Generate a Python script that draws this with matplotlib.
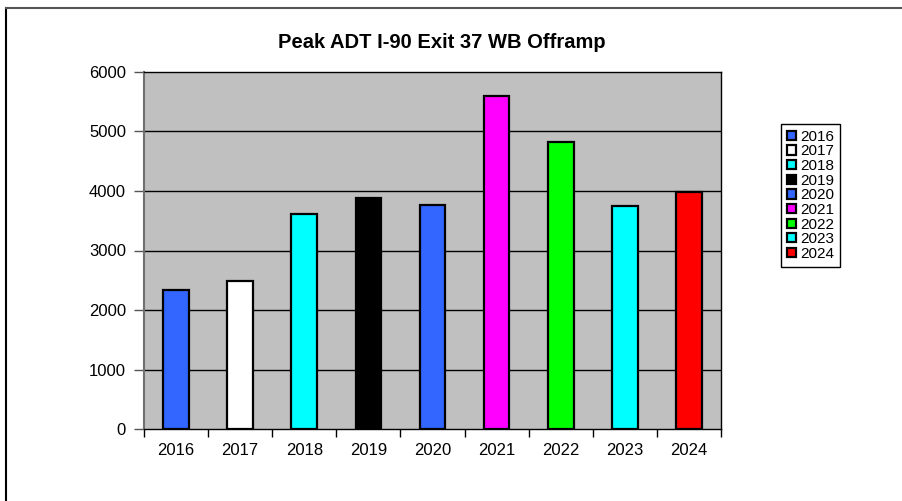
# plot.py
# Peak ADT bar chart, Excel-style, one colour per year.

import numpy as np
import matplotlib.pyplot as plt
from matplotlib.lines import Line2D

TITLE = "Peak ADT I-90 Exit 37 WB Offramp"

years = ["2016", "2017", "2018", "2019", "2020", "2021", "2022", "2023", "2024"]
peak_adt = [2330, 2490, 3620, 3875, 3765, 5590, 4830, 3740, 3980]
bar_colors = ["#3366FF", "#FFFFFF", "#00FFFF", "#000000", "#3366FF",
              "#FF00FF", "#00FF00", "#00FFFF", "#FF0000"]
y_ticks = [0, 1000, 2000, 3000, 4000, 5000, 6000]

plt.rcParams["font.family"] = ["Liberation Sans", "DejaVu Sans"]

fig = plt.figure(figsize=(9.02, 5.01), dpi=100)
ax = fig.add_axes([0.1596, 0.1437, 0.6397, 0.7126])
ax.set_facecolor("#C0C0C0")

x = np.arange(len(years))
for i, (yr, val, col) in enumerate(zip(years, peak_adt, bar_colors)):
    ax.bar(x[i], val, width=0.4, color=col, edgecolor="black",
           linewidth=1.6, label=yr, zorder=3)

ax.set_xlim(-0.5, len(years) - 0.5)
ax.set_ylim(0, 6000)

# horizontal gridlines
for v in y_ticks[1:-1]:
    ax.axhline(v, color="black", linewidth=1.0, zorder=1)

# x: tick marks on category boundaries, labels centred
ax.set_xticks(np.arange(-0.5, len(years), 1.0))
ax.set_xticklabels([])
ax.set_xticks(x, minor=True)
ax.set_xticklabels(years, minor=True, fontsize=12)
ax.tick_params(axis="x", which="major", direction="out", length=6,
               width=1, color="black")
ax.tick_params(axis="x", which="minor", length=0, pad=10)

ax.set_yticks(y_ticks)
ax.set_yticklabels([str(v) for v in y_ticks], fontsize=12)
ax.tick_params(axis="y", direction="out", length=7, width=1,
               color="#555555", pad=6)

for side in ["top", "right", "bottom"]:
    ax.spines[side].set_color("black")
    ax.spines[side].set_linewidth(1.0)
ax.spines["left"].set_color("#707070")
ax.spines["left"].set_linewidth(1.5)

fig.text(0.49, 0.916, TITLE, ha="center", va="center",
         fontsize=14.5, fontweight="bold")

leg = ax.legend(loc="upper left", bbox_to_anchor=(0.866, 0.753),
                bbox_transform=fig.transFigure, borderaxespad=0,
                fontsize=11, frameon=True, fancybox=False,
                edgecolor="black", framealpha=1, borderpad=0.4,
                labelspacing=0.04, handlelength=0.55, handleheight=0.55,
                handletextpad=0.3)
leg.get_frame().set_linewidth(1.0)

# outer chart-area border (left and top edges visible)
fig.add_artist(Line2D([6 / 902, 6 / 902], [0, 1 - 7.5 / 501],
                      transform=fig.transFigure, color="black", linewidth=1.5))
fig.add_artist(Line2D([6 / 902, 1], [1 - 7.5 / 501, 1 - 7.5 / 501],
                      transform=fig.transFigure, color="#555555", linewidth=1.5))

fig.savefig("out.png", dpi=100)
